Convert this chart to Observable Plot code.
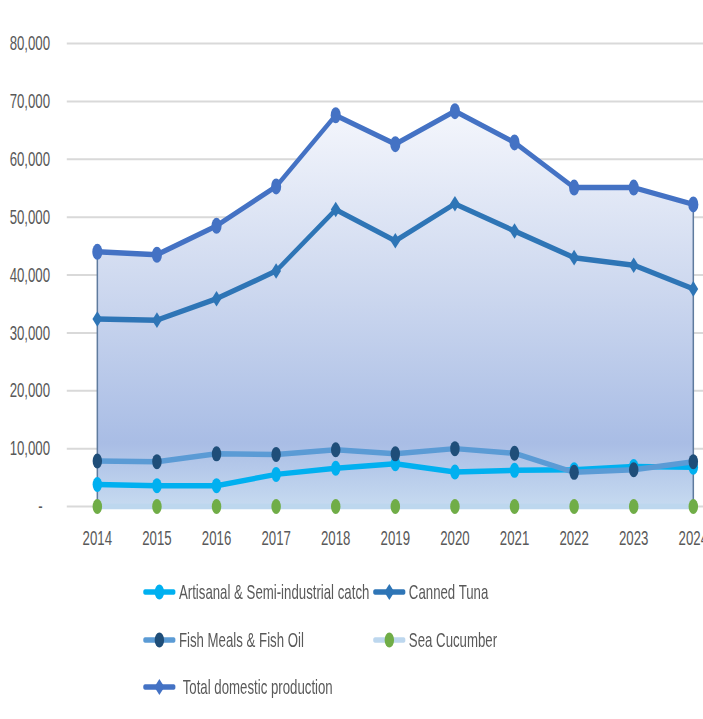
<!DOCTYPE html>
<html><head><meta charset="utf-8">
<script src="https://cdn.jsdelivr.net/npm/d3@7"></script>
<script src="https://cdn.jsdelivr.net/npm/@observablehq/plot@0.6"></script>
<style>
html,body{margin:0;padding:0;background:#fff;overflow:hidden;width:703px;height:719px}
#wrap{position:relative;width:1116px;height:719px;transform:scaleX(0.63);transform-origin:0 0;font-family:"Liberation Sans",Arial,sans-serif}
.item{position:absolute;display:flex;align-items:center;height:30px;color:#595959;font-size:21px;white-space:nowrap}
.item svg{display:block;margin-right:5px}
</style></head><body><div id="wrap"></div>
<script>
// ---- data ----
const years = [2014, 2015, 2016, 2017, 2018, 2019, 2020, 2021, 2022, 2023, 2024];
const artisanal = [3800, 3600, 3600, 5550, 6600, 7400, 5950, 6250, 6350, 6900, 6800];
const cannedTuna = [32400, 32200, 35900, 40700, 51300, 45900, 52300, 47600, 43000, 41700, 37600];
const fishMeal = [7850, 7750, 9100, 9000, 9800, 9100, 10000, 9200, 5900, 6350, 7750];
const seaCucumber = [0, 0, 0, 0, 0, 0, 0, 0, 0, 0, 0];
const totalProduction = [44000, 43500, 48500, 55300, 67600, 62600, 68300, 62900, 55100, 55100, 52200];
const yTicks = [0, 10000, 20000, 30000, 40000, 50000, 60000, 70000, 80000];
const seriesNames = ["Artisanal & Semi-industrial catch", "Canned Tuna", "Fish Meals & Fish Oil", "Sea Cucumber", "Total domestic production"];

const rows = years.map((year, i) => ({
  year,
  artisanal: artisanal[i],
  cannedTuna: cannedTuna[i],
  fishMeal: fishMeal[i],
  seaCucumber: seaCucumber[i],
  total: totalProduction[i]
}));

const series = [
  {key: "artisanal", name: seriesNames[0], line: "#00B0F0", marker: "#00B0F0", symbol: "circle", r: 7.5},
  {key: "cannedTuna", name: seriesNames[1], line: "#2E75B6", marker: "#2E75B6", symbol: "diamond2", r: 7},
  {key: "fishMeal", name: seriesNames[2], line: "#5B9BD5", marker: "#1F4E79", symbol: "circle", r: 7.5},
  {key: "seaCucumber", name: seriesNames[3], line: "#BDD7EE", marker: "#70AD47", symbol: "circle", r: 7.5},
  {key: "total", name: seriesNames[4], line: "#4472C4", marker: "#4472C4", symbol: "circle", r: 8}
];

const seriesMarks = series.flatMap(s => [
  Plot.line(rows, {x: "year", y: s.key, stroke: s.line, strokeWidth: 5.5, strokeLinejoin: "round"}),
  Plot.dot(rows, {x: "year", y: s.key, fill: s.marker, stroke: "none", r: s.r, symbol: s.symbol})
]);

const chart = Plot.plot({
  width: 1116,
  height: 560,
  marginTop: 43,
  marginBottom: 54,
  marginLeft: 106,
  marginRight: 0,
  style: {fontSize: "21px", fontFamily: "'Liberation Sans', Arial, sans-serif", color: "#595959", background: "white"},
  x: {domain: [2014, 2024], ticks: years, tickFormat: d => String(d), tickSize: 0, tickPadding: 24, label: null, insetLeft: 48, insetRight: 16},
  y: {domain: [0, 80000], ticks: yTicks, tickFormat: d => d === 0 ? "-\u00a0\u00a0" : d3.format(",")(d), tickSize: 0, tickPadding: 27, label: null},
  marks: [
    Plot.ruleY(yTicks, {stroke: "#d9d9d9", strokeWidth: 2}),
    Plot.areaY(rows, {x: "year", y: "total", fill: "url(#areaGrad)"}),
    Plot.ruleX([rows[0], rows[rows.length - 1]], {x: "year", y1: 0, y2: "total", stroke: "#5f7b9e", strokeWidth: 2.4}),
    ...seriesMarks
  ]
});

// gradient for the area fill
const ns = "http://www.w3.org/2000/svg";
const defs = document.createElementNS(ns, "defs");
defs.innerHTML = `<linearGradient id="areaGrad" x1="0" y1="0" x2="0" y2="1">
  <stop offset="0" stop-color="#f4f6fc"/>
  <stop offset="0.45" stop-color="#cdd8ef"/>
  <stop offset="0.84" stop-color="#a9bde5"/>
  <stop offset="1" stop-color="#c6daf0"/>
</linearGradient>`;
chart.insertBefore(defs, chart.firstChild);
chart.style.display = "block";

const wrap = document.getElementById("wrap");
wrap.appendChild(chart);

// legend
const legendPos = [
  {left: 227, cy: 592}, {left: 592, cy: 592},
  {left: 227, cy: 640}, {left: 592, cy: 640},
  {left: 227, cy: 687}
];
function markerSvg(s, diamond) {
  const m = diamond
    ? `<polygon points="26,7 34,15 26,23 18,15" fill="${s.marker}"/>`
    : `<circle cx="26" cy="15" r="${s.r}" fill="${s.marker}"/>`;
  return `<svg width="52" height="30"><line x1="3" y1="15" x2="49" y2="15" stroke="${s.line}" stroke-width="5.5" stroke-linecap="round"/>${m}</svg>`;
}
series.forEach((s, i) => {
  const d = document.createElement("div");
  d.className = "item";
  d.style.left = legendPos[i].left + "px";
  d.style.top = (legendPos[i].cy - 15) + "px";
  const diamond = s.key === "cannedTuna" || s.key === "total";
  d.innerHTML = markerSvg(s, diamond) + `<span${i === 4 ? ' style="margin-left:6px"' : ''}>${s.name}</span>`;
  wrap.appendChild(d);
});
</script></body></html>
